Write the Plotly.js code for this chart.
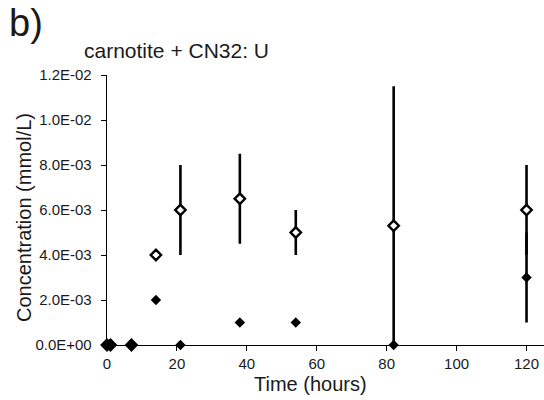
<!DOCTYPE html>
<html>
<head>
<meta charset="utf-8">
<script src="https://cdn.plot.ly/plotly-3.0.1.min.js"></script>
<style>
  html, body { margin: 0; padding: 0; background: #fff; }
  #chart { width: 544px; height: 400px; }
</style>
</head>
<body>
<div id="chart"></div>
<script>
// ---- data ----
const timeHours = [0, 1, 7, 14, 21, 38, 54, 82, 120];
const openValues = [0, 0, 0, 0.004, 0.006, 0.0065, 0.005, 0.0053, 0.006];
const openErrPlus = [0, 0, 0, 0, 0.002, 0.002, 0.001, 0.0062, 0.002];
const openErrMinus = [0, 0, 0, 0, 0.002, 0.002, 0.001, 0.0053, 0.002];
const filledValues = [0, 0, 0, 0.002, 0, 0.001, 0.001, 0, 0.003];
const filledErr = [0, 0, 0, 0, 0, 0, 0, 0, 0.002];
const yTickValues = [0, 0.002, 0.004, 0.006, 0.008, 0.010, 0.012];
const yTickLabels = ["0.0E+00", "2.0E-03", "4.0E-03", "6.0E-03", "8.0E-03", "1.0E-02", "1.2E-02"];
const xTickValues = [0, 20, 40, 60, 80, 100, 120];

const FONT = "Liberation Sans, Arial, sans-serif";
const TXT = "#1a1a1a";

const traces = [
  {
    type: "scatter", mode: "markers", x: timeHours, y: openValues,
    cliponaxis: false,
    marker: { symbol: "diamond", size: 8, color: "#ffffff", line: { color: "#000", width: 2.4 } },
    error_y: { type: "data", symmetric: false, array: openErrPlus, arrayminus: openErrMinus,
               color: "#000", thickness: 2.6, width: 0 },
    showlegend: false
  },
  {
    type: "scatter", mode: "markers", x: timeHours, y: filledValues,
    cliponaxis: false,
    marker: { symbol: "diamond", size: 8, color: "#000", line: { width: 0 } },
    error_y: { type: "data", array: filledErr, color: "#000", thickness: 2.6, width: 0 },
    showlegend: false
  }
];

const layout = {
  width: 544, height: 400,
  margin: { l: 107, r: 0, t: 75, b: 55, pad: 0 },
  paper_bgcolor: "#fff", plot_bgcolor: "#fff",
  font: { family: FONT, color: TXT, size: 15 },
  xaxis: {
    range: [0, 125], tickvals: xTickValues, ticks: "outside", ticklen: 5, tickwidth: 1,
    tickcolor: "#000", showline: true, linecolor: "#000", linewidth: 1.3,
    showgrid: false, zeroline: false, tickfont: { family: FONT, size: 15, color: TXT },
    ticklabelstandoff: 0
  },
  yaxis: {
    range: [0, 0.012], tickvals: yTickValues, ticktext: yTickLabels, ticks: "outside",
    ticklen: 5, tickwidth: 1, tickcolor: "#000", showline: true, linecolor: "#000",
    linewidth: 1.3, showgrid: false, zeroline: false,
    tickfont: { family: FONT, size: 15, color: TXT }, ticklabelstandoff: 6
  },
  annotations: [
    { text: "b)", xref: "paper", yref: "paper", x: -0.185, y: 1.193, xanchor: "center", yanchor: "middle",
      showarrow: false, font: { family: FONT, size: 38, color: TXT } },
    { text: "carnotite + CN32: U", xref: "paper", yref: "paper", x: 0.158, y: 1.089,
      xanchor: "center", yanchor: "middle", showarrow: false, font: { family: FONT, size: 21, color: TXT } },
    { text: "Time (hours)", xref: "paper", yref: "paper", x: 0.466, y: -0.143,
      xanchor: "center", yanchor: "middle", showarrow: false, font: { family: FONT, size: 20, color: TXT } },
    { text: "Concentration (mmol/L)", xref: "paper", yref: "paper", x: -0.19, y: 0.474, textangle: -90,
      xanchor: "center", yanchor: "middle", showarrow: false, font: { family: FONT, size: 20, color: TXT } }
  ]
};

Plotly.newPlot("chart", traces, layout, { displayModeBar: false, staticPlot: true });
</script>
</body>
</html>
